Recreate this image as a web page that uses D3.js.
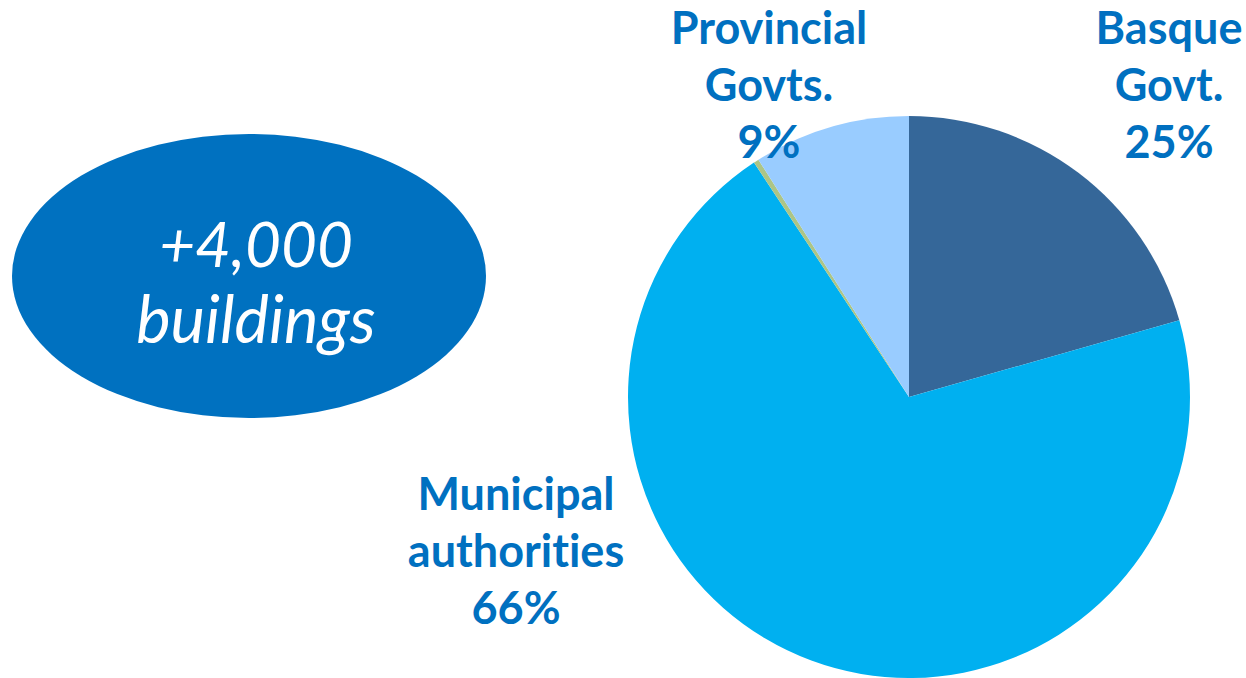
<!DOCTYPE html>
<html lang="en">
<head>
    <meta charset="UTF-8">
    <title>Public buildings by owner</title>
    <style>
        body { margin: 0; background: #fff; }
        text { font-variant-ligatures: none; }
    </style>
</head>
<body>
<script src="https://d3js.org/d3.v7.min.js"></script>
<script>
    // slice sizes as drawn (the printed labels don't quite add up to the drawing)
    const owners = ["Basque Govt.", "Municipal authorities", "Other", "Provincial Govts."];
    const shares = [20.6, 70.1, 0.3, 9.0];
    const labelLines = [["Basque", "Govt.", "25%"], ["Municipal", "authorities", "66%"], [], ["Provincial", "Govts.", "9%"]];
    const colors = ["#356799", "#00b0f0", "#adc586", "#99ccff"];
    const badgeLines = ["+4,000", "buildings"];

    const width = 1246, height = 678;
    const cx = 909, cy = 397, radius = 281;

    const svg = d3.select("body")
        .append("svg")
        .attr("width", width)
        .attr("height", height);

    // badge on the left
    const badge = svg.append("g").attr("transform", "translate(249,276)");
    badge.append("ellipse")
        .attr("rx", 237)
        .attr("ry", 142)
        .attr("fill", "#0071c0");
    badge.selectAll("text")
        .data(badgeLines)
        .join("text")
        .attr("x", 7)
        .attr("y", (d, i) => -9 + i * 76)
        .attr("text-anchor", "middle")
        .attr("fill", "#fff")
        .attr("font-family", "Lato, 'Open Sans', sans-serif")
        .attr("font-style", "italic")
        .attr("font-size", (d, i) => i ? 65 : 62)
        .text(d => d);

    // pie, starting at 12 o'clock and going clockwise
    const pie = d3.pie().sort(null).value(d => d);
    const arc = d3.arc().innerRadius(0).outerRadius(radius);
    const arcs = pie(shares);

    const g = svg.append("g").attr("transform", `translate(${cx},${cy})`);
    g.selectAll("path")
        .data(arcs)
        .join("path")
        .attr("d", arc)
        .attr("fill", (d, i) => colors[i]);

    // label anchors (centre of each block, first baseline)
    const labelPos = [[1169, 44], [516, 510], null, [769, 44]];
    const labels = svg.append("g")
        .attr("font-family", "Lato, 'Open Sans', sans-serif")
        .attr("font-weight", "bold")
        .attr("font-size", 45)
        .attr("fill", "#0070c0")
        .attr("text-anchor", "middle");

    labelLines.forEach((lines, i) => {
        if (!labelPos[i]) return;
        labels.append("text")
            .selectAll("tspan")
            .data(lines)
            .join("tspan")
            .attr("x", labelPos[i][0])
            .attr("y", (d, j) => labelPos[i][1] + j * 57)
            .text(d => d);
    });
</script>
</body>
</html>
